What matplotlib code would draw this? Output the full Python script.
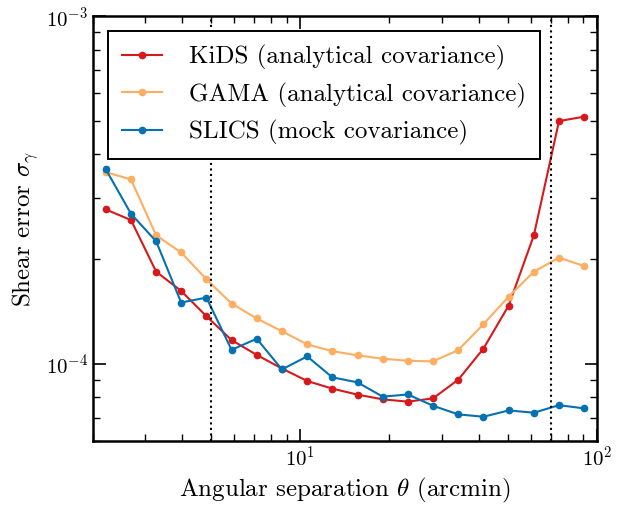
from matplotlib import pyplot as plt
import numpy as np

plt.rcParams['font.family'] = 'serif'
plt.rcParams['font.serif'] = ['cmr10']
plt.rcParams['mathtext.fontset'] = 'cm'
plt.rcParams['axes.formatter.use_mathtext'] = True

# angular bins (arcmin)
theta = [2.21, 2.69, 3.27, 3.97, 4.83, 5.87, 7.14, 8.68, 10.56, 12.83,
         15.61, 18.98, 23.07, 28.05, 34.12, 41.48, 50.43, 61.32, 74.56, 90.67]

kids = [2.78e-4, 2.59e-4, 1.84e-4, 1.62e-4, 1.37e-4, 1.17e-4, 1.06e-4, 9.69e-5, 8.92e-5, 8.48e-5,
        8.15e-5, 7.90e-5, 7.78e-5, 7.95e-5, 9.00e-5, 1.106e-4, 1.47e-4, 2.34e-4, 4.99e-4, 5.14e-4]
gama = [3.56e-4, 3.39e-4, 2.34e-4, 2.09e-4, 1.75e-4, 1.49e-4, 1.35e-4, 1.24e-4, 1.137e-4, 1.087e-4,
        1.057e-4, 1.034e-4, 1.02e-4, 1.016e-4, 1.095e-4, 1.30e-4, 1.56e-4, 1.84e-4, 2.02e-4, 1.91e-4]
slics = [3.63e-4, 2.70e-4, 2.25e-4, 1.50e-4, 1.55e-4, 1.097e-4, 1.18e-4, 9.63e-5, 1.05e-4, 9.14e-5,
         8.84e-5, 8.04e-5, 8.16e-5, 7.57e-5, 7.15e-5, 7.04e-5, 7.34e-5, 7.23e-5, 7.60e-5, 7.44e-5]

cuts = [5.0, 70.0]

fig = plt.figure(figsize=(6.23, 5.05), dpi=100)
ax = fig.add_axes([0.149, 0.127, 0.809, 0.841])

ax.plot(theta, kids, '-o', color='#d7191c', lw=1.5, ms=4.5, label='KiDS (analytical covariance)')
ax.plot(theta, gama, '-o', color='#fdae61', lw=1.5, ms=4.5, label='GAMA (analytical covariance)')
ax.plot(theta, slics, '-o', color='#0571b0', lw=1.5, ms=4.5, label='SLICS (mock covariance)')

for c in cuts:
    ax.axvline(c, color='k', ls=':', lw=1.5)

ax.set_xscale('log')
ax.set_yscale('log')
ax.set_xlim(2.0, 100)
ax.set_ylim(6.0e-5, 1e-3)

ax.tick_params(which='both', direction='in', top=True, right=True, labelsize=15)
ax.tick_params(which='major', length=9, width=1.2)
ax.tick_params(which='minor', length=5, width=1.0)
for s in ax.spines.values():
    s.set_linewidth(1.8)

ax.set_xlabel(r'Angular separation $\theta$ (arcmin)', fontsize=18)
ax.set_ylabel(r'Shear error $\sigma_\gamma$', fontsize=18)

leg = ax.legend(loc='upper left', fontsize=18, fancybox=False, edgecolor='k',
                framealpha=1, handlelength=1.6, handletextpad=1.1, borderpad=0.55,
                borderaxespad=0.6)
leg.get_frame().set_linewidth(1.4)

plt.savefig('out.png', dpi=100)
